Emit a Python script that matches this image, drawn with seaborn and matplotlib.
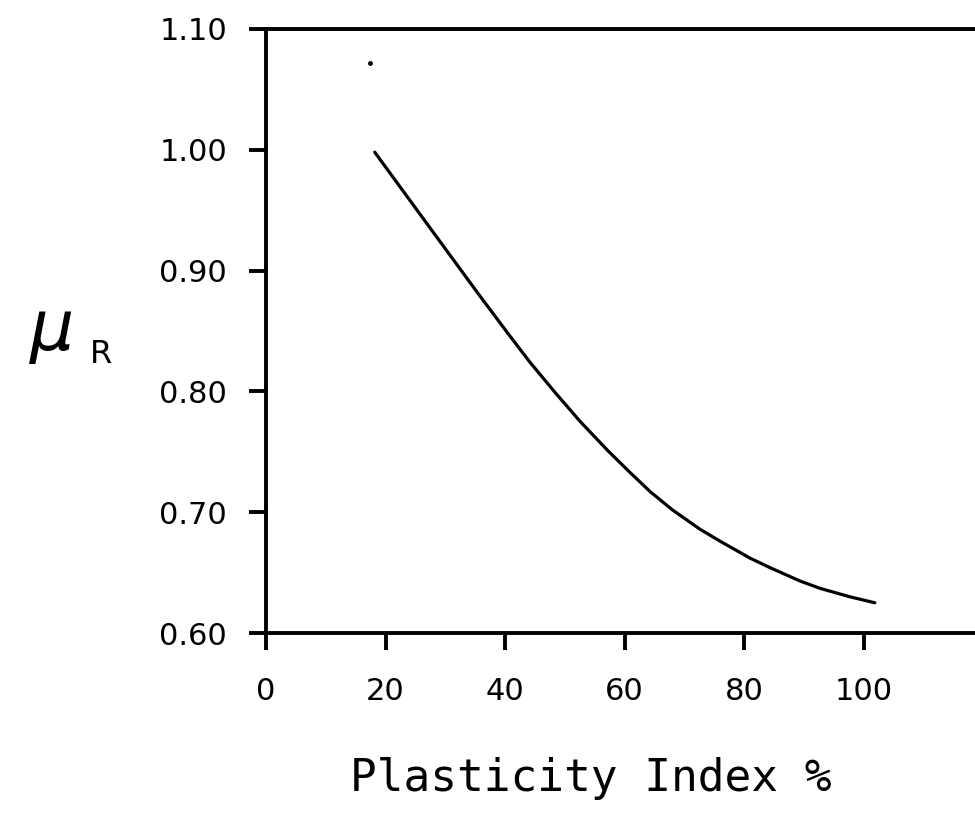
import matplotlib
matplotlib.use("Agg")
import matplotlib.pyplot as plt
import seaborn as sns
import pandas as pd

# Data
plasticity_index = [18.2, 27.8, 35.8, 40.8, 44.2, 48.4, 52.6, 57.2, 60.9, 64.3,
                    68.0, 72.6, 76.0, 81.0, 84.4, 89.4, 92.7, 97.7, 101.9]
mu_r = [0.998, 0.933, 0.879, 0.846, 0.824, 0.799, 0.775, 0.751, 0.733, 0.717,
        0.702, 0.686, 0.676, 0.662, 0.654, 0.643, 0.637, 0.630, 0.625]
stray_x = [17.4]
stray_y = [1.072]
x_ticks = [0, 20, 40, 60, 80, 100]
y_ticks = [0.60, 0.70, 0.80, 0.90, 1.00, 1.10]
y_tick_labels = ["0.60", "0.70", "0.80", "0.90", "1.00", "1.10"]

sns.set_theme(style="white")
plt.rcParams['font.family'] = ['DejaVu Sans']

df = pd.DataFrame({"PI": plasticity_index, "mu": mu_r})

fig = plt.figure(figsize=(9.75, 8.22), dpi=100)
ax = fig.add_axes([266/975, 1 - 633/822, 717/975, 604/822])

sns.lineplot(data=df, x="PI", y="mu", ax=ax, color="black", linewidth=2.3,
             solid_capstyle="round", solid_joinstyle="round")
ax.plot(stray_x, stray_y, marker="o", markersize=2.5, color="black", linestyle="none")

ax.set_xlim(0, 120)
ax.set_ylim(0.60, 1.10)
ax.set_xticks(x_ticks)
ax.set_yticks(y_ticks)
ax.set_yticklabels(y_tick_labels)

for s in ax.spines.values():
    s.set_color("black")
    s.set_linewidth(2.8)

ax.tick_params(axis="both", direction="out", length=12, width=2.8, colors="black",
               labelsize=22)
ax.tick_params(axis="x", pad=20)
ax.tick_params(axis="y", pad=16)
ax.tick_params(left=True, bottom=True)

ax.set_xlabel("")
ax.set_ylabel("")

fig.text(591/975, 1 - 778/822, "Plasticity Index %", ha="center", va="center",
         fontsize=32, color="black", family=["DejaVu Sans Mono"])
fig.text(52/975, 1 - 330/822, "\u03bc", ha="center", va="center",
         fontsize=50, color="black", style="italic")
fig.text(101/975, 1 - 354/822, "R", ha="center", va="center",
         fontsize=23, color="black")

fig.savefig("out.png", dpi=100)
